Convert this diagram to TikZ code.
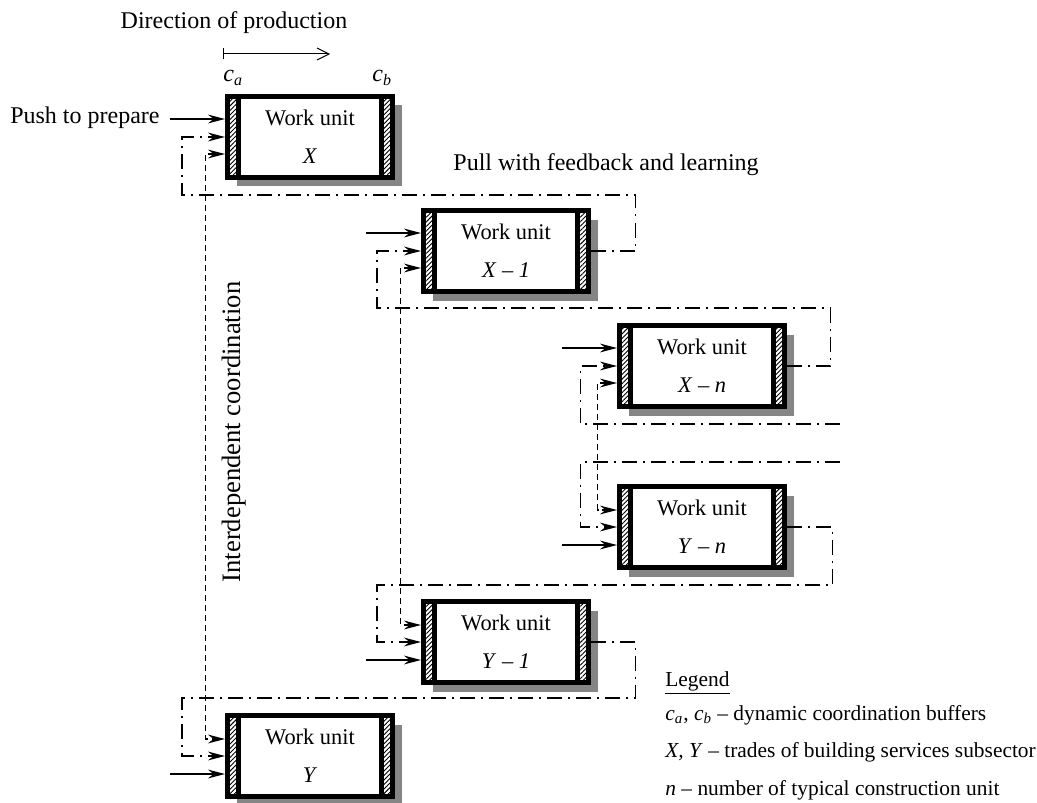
\documentclass[tikz,border=0pt]{standalone}
\usepackage{fontspec}
\setmainfont{Liberation Serif}
\definecolor{shadowgray}{HTML}{858585}
\usetikzlibrary{calc, arrows.meta, shadows, patterns.meta}

\tikzset{
  unit/.style={draw, line width=2.5pt, fill=white, minimum width=82.5pt, minimum height=40.5pt,
    inner sep=0pt, align=center, font=\fontsize{11.2}{19}\selectfont,
    general shadow={fill=shadowgray, shadow xshift=4.5pt, shadow yshift=-4.5pt},
    path picture={
      % buffers c_a and c_b
      \fill[pattern={Lines[angle=45, distance=1.6pt, line width=0.45pt]}]
        (path picture bounding box.north west) rectangle ([xshift=4.25pt]path picture bounding box.south west);
      \fill[pattern={Lines[angle=45, distance=1.6pt, line width=0.45pt]}]
        (path picture bounding box.north east) rectangle ([xshift=-4.25pt]path picture bounding box.south east);
      \draw[line width=2.25pt] ([xshift=5.4pt]path picture bounding box.north west) -- ([xshift=5.4pt]path picture bounding box.south west);
      \draw[line width=2.25pt] ([xshift=-5.4pt]path picture bounding box.north east) -- ([xshift=-5.4pt]path picture bounding box.south east);
    }},
  lbl/.style={inner sep=0pt, font=\fontsize{12}{14}\selectfont},
  legendtext/.style={inner sep=0pt, font=\fontsize{10.7}{13}\selectfont},
  push/.style={line width=0.7pt, ->},
  pull/.style={line width=0.8pt, dash pattern=on 7.5pt off 3pt on 1pt off 3pt, ->},
  coord/.style={line width=0.75pt, dash pattern=on 3pt off 2pt, <->},
}

\begin{document}
\begin{tikzpicture}[x=0.5pt, y=-0.5pt, >={Stealth[length=8.5pt, width=4.4pt, inset=2.8pt]}]
\useasboundingbox (0,0) rectangle (1037,802);

% Work units
\node[unit] (X)  at (310,137) {Work unit\\\textit{X}};
\node[unit] (X1) at (506,251) {Work unit\\\textit{X} – \textit{1}};
\node[unit] (Xn) at (702,366) {Work unit\\\textit{X} – \textit{n}};
\node[unit] (Yn) at (702,527) {Work unit\\\textit{Y} – \textit{n}};
\node[unit] (Y1) at (506,642) {Work unit\\\textit{Y} – \textit{1}};
\node[unit] (Y)  at (310,756) {Work unit\\\textit{Y}};

% Direction of production
\node[lbl, anchor=base] (dir) at (234,29) {Direction of production};
\coordinate (dirA) at (223,54);
\coordinate (dirB) at (330,54);
\draw[line width=0.5pt, {Bar[width=5.5pt]}-{Straight Barb[length=6pt, width=6pt]}] (dirA) -- (dirB);
\node[lbl, anchor=base west] (ca) at (223,82) {\textit{c\textsubscript{a}}};
\node[lbl, anchor=base west] (cb) at (372,82) {\textit{c\textsubscript{b}}};

% Push to prepare
\node[lbl, anchor=base east] (push) at (160,124) {Push to prepare};
\draw[push] ($(X.west)+(-55,-18)$) -- ($(X.west)+(0,-18)$);
\draw[push] ($(X1.west)+(-55,-18)$) -- ($(X1.west)+(0,-18)$);
\draw[push] ($(Xn.west)+(-55,-18)$) -- ($(Xn.west)+(0,-18)$);
\draw[push] ($(Yn.west)+(-55,18)$) -- ($(Yn.west)+(0,18)$);
\draw[push] ($(Y1.west)+(-55,18)$) -- ($(Y1.west)+(0,18)$);
\draw[push] ($(Y.west)+(-55,18)$) -- ($(Y.west)+(0,18)$);

% Pull with feedback and learning
\node[lbl, anchor=base west] (feedback) at (453,170) {Pull with feedback and learning};
\coordinate (inXn) at (840,424);
\coordinate (inYn) at (840,462);
\draw[pull] (X1.east) -- ++(44.5,0) |- (182,195) |- (X.west);
\draw[pull] (Xn.east) -- ++(43.5,0) |- (377,308) |- (X1.west);
\draw[pull] (inXn) -| ($(Xn.west)+(-36.5,0)$) -- (Xn.west);
\draw[pull] (inYn) -| ($(Yn.west)+(-36.5,0)$) -- (Yn.west);
\draw[pull] (Yn.east) -- ++(45.5,0) |- (377,585) |- (Y1.west);
\draw[pull] (Y1.east) -- ++(44.5,0) |- (182,698) |- (Y.west);

% Interdependent coordination
\node[inner sep=0pt, font=\fontsize{13.3}{15}\selectfont, rotate=90] (coordtxt) at (234,432) {Interdependent coordination};
\draw[coord] ($(X.west)+(0,17)$) -- ++(-19.5,0) |- ($(Y.west)+(0,-17)$);
\draw[coord] ($(X1.west)+(0,17)$) -- ++(-20.5,0) |- ($(Y1.west)+(0,-17)$);
\draw[coord] ($(Xn.west)+(0,17)$) -- ++(-19.5,0) |- ($(Yn.west)+(0,-17)$);

% Legend
\node[legendtext, anchor=base west] (leg)  at (665,686) {\underline{Legend}};
\node[legendtext, anchor=base west] (leg1) at (665,720) {\textit{c\textsubscript{a}}, \textit{c\textsubscript{b}} – dynamic coordination buffers};
\node[legendtext, anchor=base west] (leg2) at (665,757) {\textit{X, Y} – trades of building services subsector};
\node[legendtext, anchor=base west] (leg3) at (665,795) {\textit{n} – number of typical construction unit};
\end{tikzpicture}
\end{document}
